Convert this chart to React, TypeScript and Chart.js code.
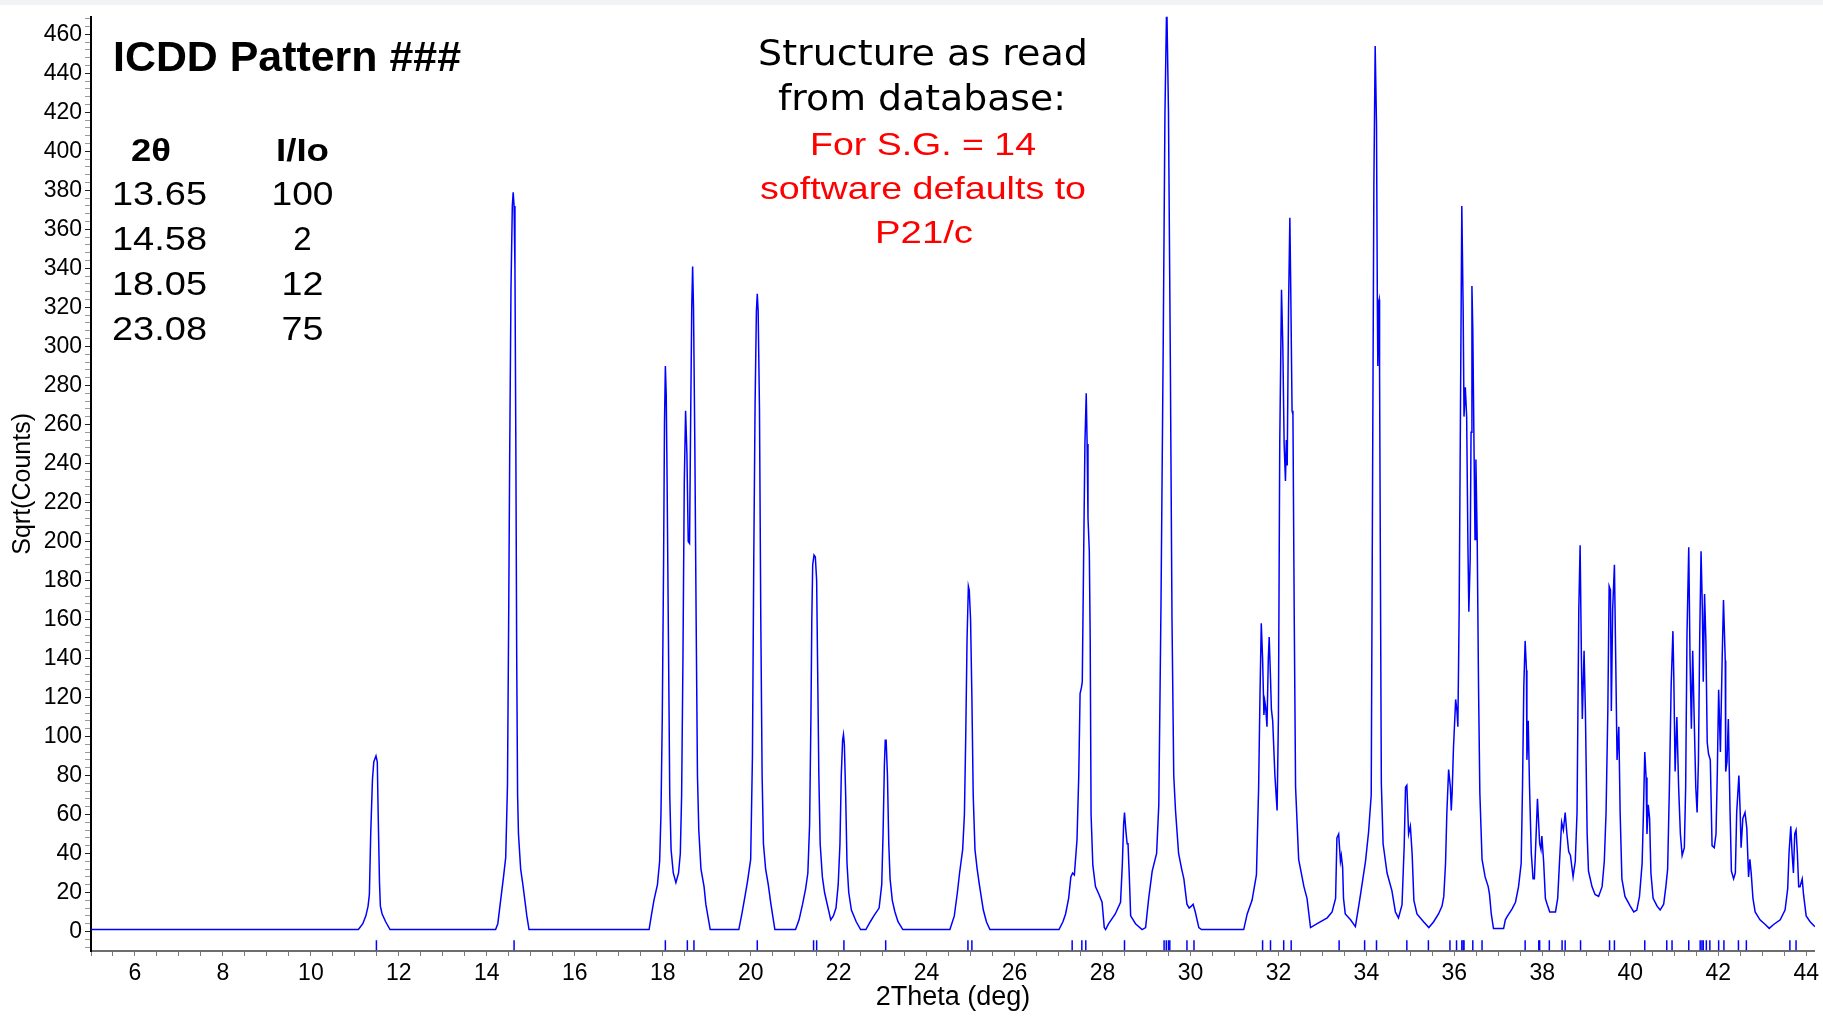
import { useEffect, useRef } from "react";
import { Chart, registerables } from "chart.js";

Chart.register(...registerables);

// ---- data ----
const twoTheta = [
  5.0, 11.08, 11.18, 11.25, 11.3, 11.33, 11.36, 11.4, 11.43, 11.48, 11.51, 11.53, 11.56, 11.58, 11.62, 11.7, 11.8,
  14.2, 14.25, 14.32, 14.38, 14.43, 14.47, 14.5, 14.52, 14.55, 14.58, 14.6, 14.62, 14.64, 14.66, 14.68, 14.7, 14.72, 14.77, 14.82, 14.86, 14.91, 14.96,
  17.69, 17.74, 17.8, 17.88, 17.93, 17.96, 17.99, 18.02, 18.04, 18.06, 18.08, 18.1, 18.13, 18.16, 18.19, 18.24, 18.3, 18.36, 18.4, 18.43, 18.46, 18.49, 18.52, 18.55, 18.58, 18.61, 18.63, 18.66, 18.68, 18.7, 18.73, 18.76, 18.79, 18.82, 18.87, 18.94, 18.98, 19.08,
  19.73, 19.8, 19.87, 19.93, 20.0, 20.04, 20.07, 20.1, 20.13, 20.15, 20.17, 20.2, 20.23, 20.26, 20.29, 20.34, 20.4, 20.46, 20.55,
  21.02, 21.1, 21.18, 21.25, 21.3, 21.34, 21.37, 21.39, 21.41, 21.44, 21.47, 21.5, 21.52, 21.55, 21.58, 21.63, 21.68, 21.73, 21.79, 21.82, 21.88, 21.94, 21.99,
  22.03, 22.06, 22.09, 22.11, 22.13, 22.16, 22.19, 22.23, 22.29, 22.4, 22.5, 22.62, 22.72, 22.8, 22.92, 22.98,
  23.01, 23.04, 23.06, 23.08, 23.11, 23.14, 23.17, 23.22, 23.28, 23.35, 23.46,
  24.53, 24.63, 24.7, 24.75, 24.82, 24.86, 24.89, 24.92, 24.95, 24.97, 25.0, 25.03, 25.06, 25.1, 25.15, 25.2, 25.29, 25.36, 25.44,
  27.01, 27.1, 27.16, 27.23, 27.28, 27.32, 27.36, 27.42, 27.46, 27.49, 27.52, 27.54, 27.57, 27.6, 27.63, 27.65, 27.67, 27.7, 27.72, 27.74, 27.78, 27.84, 27.92, 27.99, 28.04, 28.07,
  28.14, 28.29, 28.41, 28.45, 28.48, 28.5, 28.53, 28.56, 28.58, 28.61, 28.64, 28.75, 28.9, 28.98,
  29.05, 29.13, 29.23, 29.28, 29.33, 29.38, 29.42, 29.46, 29.5, 29.54, 29.58, 29.62, 29.66, 29.73, 29.8, 29.85, 29.92, 29.97, 30.02, 30.06, 30.11, 30.19, 30.25,
  31.21, 31.29, 31.4, 31.5, 31.55, 31.58, 31.61, 31.64, 31.67, 31.69, 31.71, 31.74, 31.77, 31.79, 31.82, 31.84, 31.87, 31.92, 31.97,
  32.0, 32.03, 32.07, 32.1, 32.13, 32.16, 32.18, 32.2, 32.23, 32.26, 32.28, 32.31, 32.33, 32.36, 32.39, 32.46, 32.58, 32.65, 32.73, 32.88,
  33.11, 33.22, 33.3, 33.33, 33.37, 33.41, 33.43, 33.46, 33.48, 33.52, 33.64, 33.75, 33.83, 33.88, 33.98,
  34.05, 34.11, 34.14, 34.17, 34.2, 34.23, 34.25, 34.26, 34.28, 34.29, 34.3, 34.32, 34.34, 34.38, 34.47, 34.58, 34.66, 34.73, 34.81, 34.86, 34.89, 34.92, 34.96,
  35.0, 35.04, 35.08, 35.15, 35.3, 35.42, 35.53, 35.64, 35.72, 35.76, 35.8, 35.83, 35.87, 35.91, 35.93, 35.95, 35.98,
  36.03, 36.06, 36.08, 36.11, 36.14, 36.17, 36.2, 36.22, 36.25, 36.28, 36.31, 36.33, 36.36, 36.38, 36.4, 36.42, 36.45, 36.47, 36.49, 36.52, 36.55, 36.58, 36.63, 36.7, 36.77, 36.8, 36.84, 36.89,
  37.12, 37.16, 37.2, 37.31, 37.39, 37.46, 37.52, 37.55, 37.58, 37.61, 37.64, 37.65, 37.68, 37.71, 37.75, 37.79, 37.82, 37.86, 37.89, 37.94, 37.97, 37.99,
  38.03, 38.07, 38.11, 38.17, 38.3, 38.35, 38.39, 38.44, 38.48, 38.52, 38.56, 38.6, 38.64, 38.7, 38.75, 38.79, 38.83, 38.86, 38.89, 38.91, 38.95, 38.98,
  39.02, 39.05, 39.13, 39.2, 39.28, 39.36, 39.41, 39.45, 39.49, 39.52, 39.55, 39.57, 39.6, 39.64, 39.67, 39.7, 39.74, 39.77, 39.81, 39.88,
  40.0, 40.08, 40.15, 40.21, 40.27, 40.3, 40.33, 40.36, 40.38, 40.41, 40.44, 40.47, 40.52, 40.61, 40.68, 40.76, 40.81, 40.85, 40.89, 40.93, 40.97, 40.99,
  41.02, 41.06, 41.1, 41.14, 41.18, 41.23, 41.26, 41.29, 41.33, 41.36, 41.39, 41.42, 41.45, 41.49, 41.52, 41.55, 41.58, 41.61, 41.64, 41.66, 41.69, 41.72, 41.75, 41.78, 41.82, 41.86, 41.91, 41.95, 41.98,
  42.01, 42.05, 42.09, 42.12, 42.16, 42.17, 42.2, 42.23, 42.27, 42.3, 42.35, 42.39, 42.42, 42.47, 42.5, 42.52, 42.56, 42.61, 42.65, 42.69, 42.72, 42.75, 42.79, 42.84, 42.95,
  43.07, 43.16, 43.26, 43.41, 43.52, 43.58, 43.61, 43.65, 43.68, 43.71, 43.74, 43.77, 43.8, 43.83, 43.86, 43.91, 43.94, 44.0, 44.09, 44.2,
];

const sqrtCounts = [
  1, 1, 4, 8, 13, 19, 50, 78, 87, 90, 87, 60, 25, 13, 9, 5, 1,
  1, 4, 17, 28, 38, 75, 170, 243, 330, 372, 379, 372, 340, 250, 140, 70, 50, 32, 24, 17, 8, 1,
  1, 8, 16, 24, 36, 60, 110, 190, 260, 290, 275, 230, 150, 70, 42, 30, 25, 30, 40, 70, 140, 230, 267, 245, 200, 199, 250, 320, 341, 320, 250, 160, 80, 52, 32, 23, 14, 1,
  1, 9, 18, 26, 37, 90, 190, 270, 318, 327, 318, 268, 160, 80, 45, 32, 24, 14, 1,
  1, 6, 14, 22, 30, 55, 110, 160, 188, 193, 192, 180, 140, 80, 45, 28, 20, 15, 9, 6, 8, 12, 24,
  45, 80, 98, 101, 96, 70, 35, 20, 11, 5, 1, 1, 5, 8, 12, 24,
  50, 85, 98, 98, 80, 45, 27, 16, 10, 5, 1,
  1, 8, 20, 30, 42, 60, 100, 150, 177, 175, 160, 120, 70, 42, 32, 24, 11, 5, 1,
  1, 5, 9, 17, 28, 30, 29, 47, 80, 122, 125, 128, 190, 250, 276, 250, 212, 195, 150, 60, 34, 23, 19, 15, 2, 1,
  4, 9, 15, 34, 55, 61, 52, 45, 45, 28, 8, 4, 1, 2,
  17, 31, 40, 65, 168, 300, 420, 478, 420, 300, 160, 80, 62, 40, 32, 27, 14, 12, 13, 14, 10, 2, 1,
  1, 9, 16, 29, 74, 120, 158, 140, 111, 118, 115, 105, 140, 151, 130, 114, 108, 80, 62,
  110, 250, 329, 300, 250, 231, 252, 239, 320, 366, 330, 267, 265, 160, 74, 37, 23, 17, 2, 4,
  7, 10, 17, 48, 50, 36, 39, 33, 17, 9, 6, 2.5, 13.6, 21, 36,
  51, 70, 227, 382, 454, 414, 320, 290, 323, 324, 287, 180, 76, 45, 30, 21, 10, 7, 13.6, 44, 74, 75, 50,
  54, 40, 16, 9, 5, 2, 5, 9, 13, 18, 35, 61, 83, 74, 62, 71, 94,
  119, 113, 105, 165, 269, 372, 320, 264, 279, 264, 196, 164, 191, 256, 331, 308, 243, 201, 242, 201, 126, 71, 37, 28, 23, 19, 9, 1.5,
  1.5, 6, 7.6, 11.5, 15, 23, 35, 74, 126, 149, 134, 88, 108, 74, 40, 27, 27, 50, 68, 45, 42, 49,
  36, 17, 14, 10, 10, 17, 35, 56, 52, 61, 50, 41, 39, 28, 36, 61, 165, 198, 139, 109, 144, 113,
  50, 31, 23, 19, 18, 23, 36, 61, 113, 177, 175, 113, 165, 188, 139, 88, 105, 61, 27, 18,
  13, 10, 11, 18, 35, 61, 92, 79, 50, 65, 58, 30, 17, 13, 11, 14, 23, 32, 74, 126, 154, 131,
  82, 110, 74, 50, 39, 43, 74, 152, 197, 139, 104, 144, 113, 74, 61, 87, 152, 195, 165, 128, 173, 149, 97, 91, 88, 44, 43, 50, 82,
  124, 92, 140, 170, 139, 82, 87, 109, 61, 31, 27, 30, 61, 80, 61, 43, 58, 61, 53, 28, 37, 30, 17, 10, 6,
  3.6, 1.6, 3.6, 6, 11, 22, 40, 54, 40, 30, 50, 52, 40, 23, 23, 27, 19, 8, 5, 2.4,
];

// reflection (peak) marker positions, 2theta
const reflections = [
  11.49, 14.62, 18.06, 18.56, 18.71, 20.15, 21.43, 21.5, 22.12, 23.07, 24.94, 25.03,
  27.31, 27.53, 27.62, 28.5, 29.4, 29.45, 29.5, 29.53, 29.92, 30.08,
  31.64, 31.82, 32.12, 32.29, 33.38, 33.96, 34.23, 34.92, 35.41, 35.9, 36.05, 36.17, 36.2, 36.22,
  36.42, 36.63, 37.61, 37.92, 37.94, 38.16, 38.45, 38.52, 38.87, 39.53, 39.64, 40.33, 40.83, 40.95,
  41.33, 41.59, 41.63, 41.66, 41.73, 41.81, 42.01, 42.13, 42.46, 42.64, 43.63, 43.77,
];
const markerLevel = -7;

const xTickLabels = [6, 8, 10, 12, 14, 16, 18, 20, 22, 24, 26, 28, 30, 32, 34, 36, 38, 40, 42, 44];
const yTickLabels = [0, 20, 40, 60, 80, 100, 120, 140, 160, 180, 200, 220, 240, 260, 280, 300, 320, 340, 360, 380, 400, 420, 440, 460];

const tableHeaders = ["2θ", "I/Io"];
const tableTheta = ["13.65", "14.58", "18.05", "23.08"];
const tableIntensity = ["100", "2", "12", "75"];

const W = 1823;
const H = 1016;
const SANS = "'Liberation Sans', Arial, sans-serif";

export default function App() {
  const ref = useRef<HTMLCanvasElement>(null);

  useEffect(() => {
    const canvas = ref.current;
    if (!canvas) return;
    const profile = twoTheta.map((x, i) => ({ x, y: sqrtCounts[i] }));
    const marks = reflections.map((x) => ({ x, y: markerLevel }));
    const near = (v: number, list: number[]) => list.some((t) => Math.abs(t - v) < 1e-6);

    const chart = new Chart(canvas, {
      type: "scatter",
      data: {
        datasets: [
          {
            data: profile,
            showLine: true,
            borderColor: "#0000ff",
            borderWidth: 1.5,
            pointRadius: 0,
            tension: 0,
          },
          {
            data: marks,
            showLine: false,
            pointStyle: "line",
            pointRotation: 90,
            pointRadius: 5,
            pointBorderColor: "#0000ff",
            pointBorderWidth: 1.5,
            pointBackgroundColor: "#0000ff",
            borderColor: "#0000ff",
          },
        ],
      },
      options: {
        responsive: false,
        animation: false,
        devicePixelRatio: 1,
        events: [],
        layout: { padding: { top: 13, right: 8, left: 0, bottom: 0 } },
        plugins: { legend: { display: false }, tooltip: { enabled: false } },
        scales: {
          x: {
            type: "linear",
            min: 5,
            max: 44.2,
            afterFit: (s: any) => {
              s.height = 65;
            },
            border: { display: true, color: "#6e6e6e", width: 2 },
            grid: {
              display: true,
              drawOnChartArea: false,
              drawTicks: true,
              tickLength: 5,
              tickColor: "#7a7a7a",
              tickWidth: 1,
            },
            ticks: {
              stepSize: 0.5,
              autoSkip: false,
              maxRotation: 0,
              includeBounds: false,
              padding: 4,
              color: "#000",
              font: { size: 23, family: SANS },
              callback: (v: any) => (near(Number(v), xTickLabels) ? String(Math.round(Number(v))) : ""),
            },
            title: {
              display: true,
              text: "2Theta (deg)",
              color: "#000",
              font: { size: 27, family: SANS },
              padding: { top: 0, bottom: 2 },
            },
          },
          y: {
            type: "linear",
            min: -10,
            max: 469,
            afterFit: (s: any) => {
              s.width = 91;
            },
            border: { display: true, color: "#000", width: 2 },
            grid: {
              display: true,
              drawOnChartArea: false,
              drawTicks: true,
              tickLength: 6,
              tickColor: (c: any) => (c.tick && near(c.tick.value, yTickLabels) ? "#222" : "#9a9a9a"),
              tickWidth: 1,
            },
            ticks: {
              stepSize: 4,
              autoSkip: false,
              includeBounds: false,
              padding: 3,
              color: "#000",
              font: { size: 23, family: SANS },
              callback: (v: any) => (near(Number(v), yTickLabels) ? String(Math.round(Number(v))) : ""),
            },
            title: {
              display: true,
              text: "Sqrt(Counts)",
              color: "#000",
              font: { size: 25, family: SANS },
              padding: { top: 8, bottom: 0 },
            },
          },
        },
      } as any,
    });
    return () => chart.destroy();
  }, []);

  const valueBaselines = [205, 250, 295, 340];

  return (
    <div style={{ position: "absolute", left: 0, top: 0, width: W, height: H, background: "#fff", overflow: "hidden" }}>
      <canvas ref={ref} width={W} height={H} style={{ position: "absolute", left: 0, top: 0, width: W, height: H }} />
      <div style={{ position: "absolute", left: 0, top: 0, width: W, height: 5, background: "#f2f3f5" }} />
      <svg
        width={W}
        height={H}
        style={{ position: "absolute", left: 0, top: 0, pointerEvents: "none" }}
        xmlns="http://www.w3.org/2000/svg"
      >
        <text x={113} y={71} fontFamily={SANS} fontWeight="bold" fontSize={43} fill="#000" textLength={348} lengthAdjust="spacingAndGlyphs">
          ICDD Pattern ###
        </text>
        <text x={131} y={161} fontFamily={SANS} fontWeight="bold" fontSize={32} fill="#000" textLength={40} lengthAdjust="spacingAndGlyphs">
          {tableHeaders[0]}
        </text>
        <text x={302.5} y={161} textAnchor="middle" fontFamily={SANS} fontWeight="bold" fontSize={32} fill="#000" textLength={53} lengthAdjust="spacingAndGlyphs">
          {tableHeaders[1]}
        </text>
        {tableTheta.map((t, i) => (
          <text key={"t" + i} x={112} y={valueBaselines[i]} fontFamily={SANS} fontSize={33} fill="#000" textLength={95} lengthAdjust="spacingAndGlyphs">
            {t}
          </text>
        ))}
        {tableIntensity.map((t, i) => (
          <text
            key={"i" + i}
            x={302.5}
            y={valueBaselines[i]}
            textAnchor="middle"
            fontFamily={SANS}
            fontSize={33}
            fill="#000"
            {...(t.length > 1 ? { textLength: t.length === 3 ? 62 : 42, lengthAdjust: "spacingAndGlyphs" } : {})}
          >
            {t}
          </text>
        ))}
        <text x={923} y={65} textAnchor="middle" fontFamily="'DejaVu Sans', Verdana, sans-serif" fontSize={35} fill="#000" textLength={330} lengthAdjust="spacingAndGlyphs">
          Structure as read
        </text>
        <text x={922} y={110} textAnchor="middle" fontFamily="'DejaVu Sans', Verdana, sans-serif" fontSize={35} fill="#000" textLength={288} lengthAdjust="spacingAndGlyphs">
          from database:
        </text>
        <text x={923} y={155} textAnchor="middle" fontFamily={SANS} fontSize={32} fill="#ff0000" textLength={226} lengthAdjust="spacingAndGlyphs">
          For S.G. = 14
        </text>
        <text x={923} y={199} textAnchor="middle" fontFamily={SANS} fontSize={32} fill="#ff0000" textLength={326} lengthAdjust="spacingAndGlyphs">
          software defaults to
        </text>
        <text x={924} y={243} textAnchor="middle" fontFamily={SANS} fontSize={32} fill="#ff0000" textLength={98} lengthAdjust="spacingAndGlyphs">
          P21/c
        </text>
      </svg>
    </div>
  );
}
